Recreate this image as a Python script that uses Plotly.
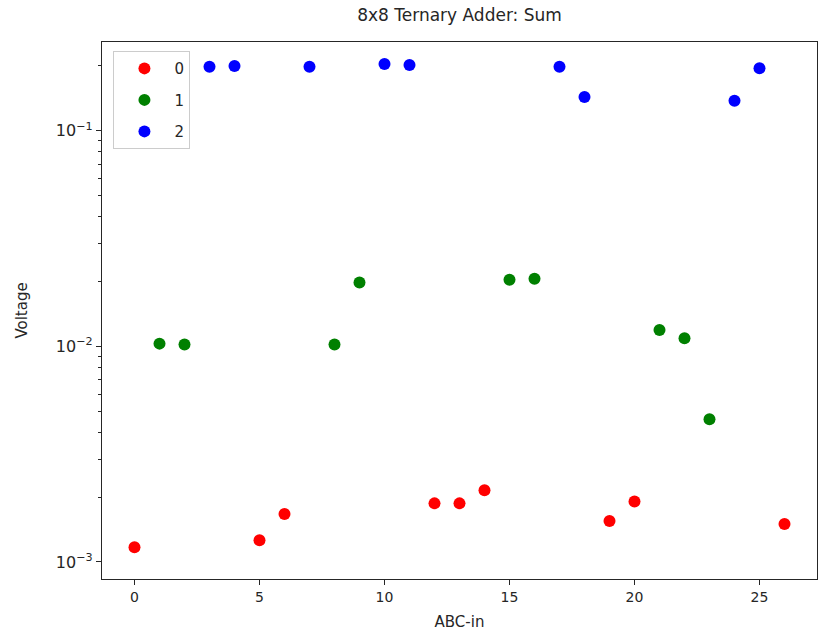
import plotly.graph_objects as go

x0 = [0, 5, 6, 12, 13, 14, 19, 20, 26]
y0 = [0.00117, 0.00126, 0.00167, 0.00187, 0.00187, 0.00215, 0.00155, 0.00191, 0.00150]
x1 = [1, 2, 8, 9, 15, 16, 21, 22, 23]
y1 = [0.0103, 0.0102, 0.0102, 0.0198, 0.0204, 0.0206, 0.0119, 0.0109, 0.00459]
x2 = [3, 4, 7, 10, 11, 17, 18, 24, 25]
y2 = [0.198, 0.200, 0.198, 0.204, 0.202, 0.198, 0.1436, 0.138, 0.195]

series = [("0", x0, y0, "red"), ("1", x1, y1, "green"), ("2", x2, y2, "blue")]
xticks = [0, 5, 10, 15, 20, 25]
ymajor = [1e-3, 1e-2, 1e-1]
ymajor_text = ["10<sup>−3</sup>", "10<sup>−2</sup>", "10<sup>−1</sup>"]
yminor = [m * d for d in [1e-3, 1e-2, 1e-1] for m in range(2, 10)]

fig = go.Figure()
for name, xs, ys, c in series:
    fig.add_trace(go.Scatter(x=xs, y=ys, mode="markers", name=name, legendgroup=name,
                             marker=dict(color=c, size=12, line=dict(width=0))))

font = "DejaVu Sans"
fig.update_layout(
    width=819, height=640,
    margin=dict(l=102, r=2, t=42, b=61),
    paper_bgcolor="white", plot_bgcolor="white",
    font=dict(family=font, size=14, color="#262626"),
    title=dict(text="8x8 Ternary Adder: Sum", x=(102 + 817) / 2 / 819, xanchor="center",
               y=1 - 15 / 640, yanchor="middle", font=dict(size=17, color="#262626")),
    showlegend=True,
    legend=dict(x=0.016, y=0.983, xanchor="left", yanchor="top",
                bordercolor="#cccccc", borderwidth=1, bgcolor="white",
                font=dict(size=15), itemwidth=50, tracegroupgap=9),
    xaxis=dict(range=[-1.3, 27.3], tickmode="array", tickvals=xticks,
               ticks="outside", ticklen=5, tickcolor="#262626",
               showgrid=False, zeroline=False, showline=True, linecolor="#262626",
               linewidth=1.2, mirror=True, tickfont=dict(size=14),
               title=dict(text="ABC-in", font=dict(size=15), standoff=12)),
    yaxis=dict(type="log", range=[-3.079, -0.588], tickmode="array",
               tickvals=ymajor, ticktext=ymajor_text,
               ticks="outside", ticklen=5, tickcolor="#262626", tickfont=dict(size=16),
               minor=dict(tickmode="array", tickvals=yminor, ticks="outside", ticklen=3,
                          tickcolor="#262626", showgrid=False),
               showgrid=False, zeroline=False, showline=True, linecolor="#262626",
               linewidth=1.2, mirror=True,
               title=dict(text="Voltage", font=dict(size=15), standoff=24)),
)
fig.write_html("out.html")
